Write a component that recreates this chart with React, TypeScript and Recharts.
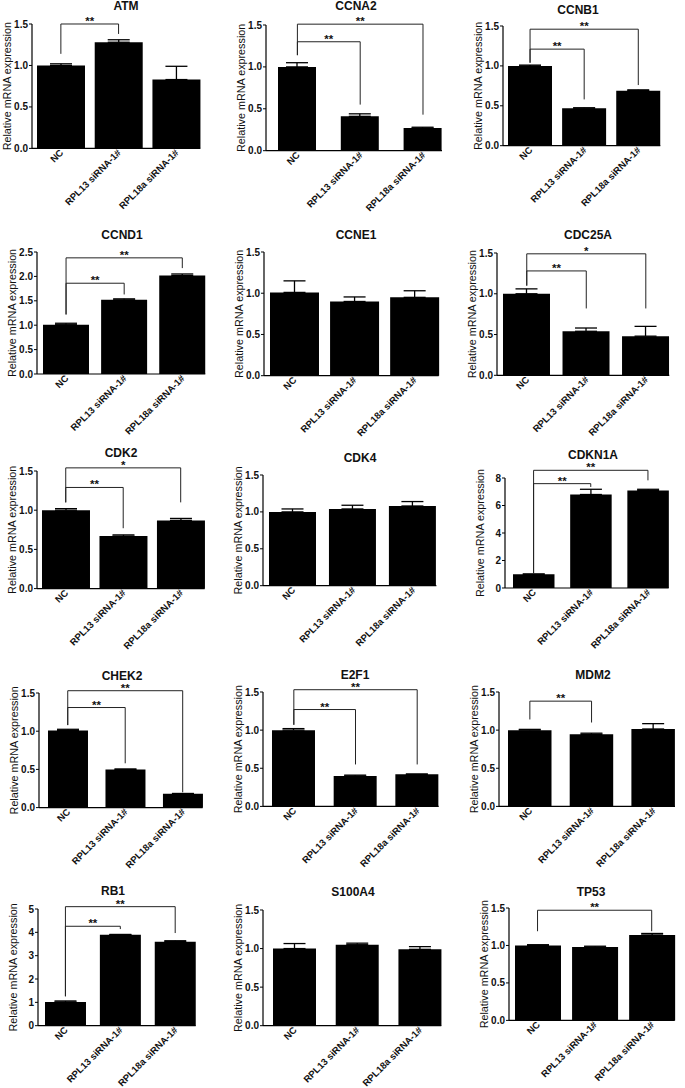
import React from "react";
import { Bar, BarChart, ErrorBar, ReferenceLine, XAxis, YAxis } from "recharts";

const categories = ["NC", "RPL13 siRNA-1#", "RPL18a siRNA-1#"];
const genes = ["ATM", "CCNA2", "CCNB1", "CCND1", "CCNE1", "CDC25A", "CDK2", "CDK4", "CDKN1A", "CHEK2", "E2F1", "MDM2", "RB1", "S100A4", "TP53"];

// mean relative expression per gene, in category order
const means = [
  [1.0, 1.28, 0.83],
  [1.0, 0.41, 0.27],
  [1.0, 0.47, 0.69],
  [1.01, 1.52, 2.02],
  [1.01, 0.9, 0.95],
  [1.0, 0.54, 0.48],
  [1.0, 0.67, 0.87],
  [1.0, 1.04, 1.08],
  [1.0, 6.8, 7.1],
  [1.01, 0.5, 0.18],
  [1.0, 0.4, 0.42],
  [1.0, 0.945, 1.015],
  [1.02, 3.9, 3.6],
  [1.0, 1.05, 0.99],
  [1.0, 0.98, 1.14],
];

// upper error (SD) per gene
const errors = [
  [0.02, 0.03, 0.16],
  [0.05, 0.03, 0.01],
  [0.01, 0.005, 0.01],
  [0.03, 0.02, 0.03],
  [0.14, 0.055, 0.08],
  [0.06, 0.04, 0.12],
  [0.02, 0.015, 0.025],
  [0.04, 0.05, 0.06],
  [0.02, 0.38, 0.08],
  [0.015, 0.005, 0.005],
  [0.02, 0.01, 0.005],
  [0.01, 0.015, 0.07],
  [0.04, 0.01, 0.04],
  [0.065, 0.02, 0.035],
  [0.01, 0.01, 0.02],
];

const ticks15 = [0, 0.5, 1, 1.5];
const ticks25 = [0, 0.5, 1, 1.5, 2, 2.5];
const ticks8 = [0, 2, 4, 6, 8];
const ticks5 = [0, 1, 2, 3, 4, 5];
const yTicks = [ticks15, ticks15, ticks15, ticks25, ticks15, ticks15, ticks15, ticks15, ticks8, ticks15, ticks15, ticks15, ticks5, ticks15, ticks15];

// significance brackets: gene, from, to, top, left foot, right foot, stars
const brackets: [string, number, number, number, number, number, string][] = [
  ["ATM", 0, 1, 1.5, 1.14, 1.38, "**"],
  ["CCNA2", 0, 1, 1.3, 1.14, 0.55, "**"],
  ["CCNA2", 0, 2, 1.51, 1.14, 0.43, "**"],
  ["CCNB1", 0, 1, 1.21, 1.04, 0.58, "**"],
  ["CCNB1", 0, 2, 1.46, 1.04, 0.76, "**"],
  ["CCND1", 0, 1, 1.86, 1.22, 1.63, "**"],
  ["CCND1", 0, 2, 2.38, 1.22, 2.17, "**"],
  ["CDC25A", 0, 1, 1.28, 1.1, 0.82, "**"],
  ["CDC25A", 0, 2, 1.49, 1.1, 0.82, "*"],
  ["CDK2", 0, 1, 1.29, 1.1, 0.77, "**"],
  ["CDK2", 0, 2, 1.54, 1.1, 1.1, "*"],
  ["CDKN1A", 0, 1, 7.59, 1.06, 7.35, "**"],
  ["CDKN1A", 0, 2, 8.56, 1.06, 7.83, "**"],
  ["CHEK2", 0, 1, 1.31, 1.08, 0.58, "**"],
  ["CHEK2", 0, 2, 1.53, 1.08, 0.2, "**"],
  ["E2F1", 0, 1, 1.27, 1.07, 0.55, "**"],
  ["E2F1", 0, 2, 1.53, 1.07, 0.55, "**"],
  ["MDM2", 0, 1, 1.38, 1.14, 1.1, "**"],
  ["RB1", 0, 1, 4.26, 1.26, 4.14, "**"],
  ["RB1", 0, 2, 5.1, 1.26, 3.97, "**"],
  ["TP53", 0, 2, 1.47, 1.19, 1.19, "**"],
];

// plot box on the page: x0, yTop, x1, yBottom, bar width, title centre x, title centre y
const panels = [
  [31.7, 24.3, 200, 148.7, 48, 126, 6],
  [266.3, 25, 442.3, 150.7, 38, 356, 6],
  [502.7, 26, 660, 145.7, 44, 578, 10],
  [36.7, 252.3, 205, 374.3, 46, 122, 235],
  [264, 252.3, 438.7, 376, 49, 356, 235],
  [496.7, 252.7, 669, 375, 47, 588, 235],
  [37.3, 470.7, 205, 588.3, 48, 121, 453],
  [263.3, 475, 436.7, 585.7, 47, 360, 458],
  [505.3, 477.7, 669, 587.7, 41.5, 593, 455],
  [39.3, 692.7, 203, 807.3, 40, 122, 676],
  [263, 692.3, 438.7, 806.7, 43, 355, 675],
  [498.7, 692.3, 674.7, 806.7, 43.5, 593, 675],
  [38.3, 909.3, 196, 1026, 41, 113, 891],
  [263, 910, 441.3, 1025.7, 43, 353, 892],
  [509.3, 908.3, 675, 1020.7, 46, 591, 892],
];

const YW = 36;
const MT = 26;
const MR = 6;
const XH = 74;

function CatTick(props: any) {
  const { x, y, payload } = props;
  const tx = x + 3;
  const ty = y + 5;
  return (
    <text x={tx} y={ty} transform={`rotate(-45 ${tx} ${ty})`} textAnchor="end" fontSize={9.5} fontWeight="bold" fill="#111">
      {payload.value}
    </text>
  );
}

function Panel({ index }: { index: number }) {
  const [x0, yTop, x1, yBottom, barW, tx, ty] = panels[index];
  const plotW = x1 - x0;
  const plotH = yBottom - yTop;
  const gap = (plotW - 3 * barW) / 2.5;
  const ticks = yTicks[index];
  const yMax = ticks[ticks.length - 1];
  const gene = genes[index];
  const rows = categories.map((name, i) => ({ name, mean: means[index][i], err: [0, errors[index][i]] }));
  const fmt = (v: number) => (yMax < 3 ? v.toFixed(1) : String(v));

  const lines: React.ReactNode[] = [];
  brackets
    .filter((b) => b[0] === gene)
    .forEach(([, a, b, top, lf, rf, stars], k) => {
      const ca = categories[a];
      const cb = categories[b];
      const common = { stroke: "#222", strokeWidth: 1, ifOverflow: "visible" as const };
      lines.push(
        <ReferenceLine key={`h${k}`} {...common} segment={[{ x: ca, y: top }, { x: cb, y: top }]}
          label={{ value: stars, position: "top", offset: -1, fontSize: 11.5, fontWeight: "bold", fill: "#111" }} />,
        <ReferenceLine key={`l${k}`} {...common} segment={[{ x: ca, y: top }, { x: ca, y: lf }]} />,
        <ReferenceLine key={`r${k}`} {...common} segment={[{ x: cb, y: top }, { x: cb, y: rf }]} />
      );
    });

  return (
    <>
      <div style={{ position: "absolute", left: tx - 50, top: ty - 7, width: 100, textAlign: "center", fontSize: 12, fontWeight: "bold", lineHeight: "14px", color: "#111" }}>
        {gene}
      </div>
      <div style={{ position: "absolute", left: x0 - YW, top: yTop - MT }}>
        <BarChart width={YW + plotW + MR} height={MT + plotH + XH} data={rows} margin={{ top: MT, right: MR, bottom: 0, left: 0 }}>
          <XAxis dataKey="name" height={XH} interval={0} padding={{ left: 0, right: -gap / 2 }} tickLine={false} tickSize={0} tickMargin={0}
            axisLine={{ stroke: "#000", strokeWidth: 1.2 }} tick={<CatTick />} />
          <YAxis width={YW} domain={[0, yMax]} ticks={ticks} tickFormatter={fmt} interval={0} tickSize={3} tickMargin={1}
            axisLine={{ stroke: "#000", strokeWidth: 1.2 }} tickLine={{ stroke: "#000", strokeWidth: 1 }}
            tick={{ fontSize: 10, fontWeight: "bold", fill: "#111" }}
            label={{ value: "Relative mRNA expression", angle: -90, position: "insideLeft", offset: 11, style: { textAnchor: "middle", fontSize: 10.8, fill: "#111" } }} />
          <Bar dataKey="mean" fill="#000" barSize={barW} isAnimationActive={false}>
            <ErrorBar dataKey="err" width={11} stroke="#000" strokeWidth={1.3} isAnimationActive={false} />
          </Bar>
          {lines}
        </BarChart>
      </div>
    </>
  );
}

export default function App() {
  return (
    <div style={{ position: "absolute", left: 0, top: 0, width: 685, height: 1088, overflow: "hidden", background: "#fff", fontFamily: "'Liberation Sans', Arial, sans-serif" }}>
      {genes.map((g, i) => (
        <Panel key={g} index={i} />
      ))}
    </div>
  );
}
